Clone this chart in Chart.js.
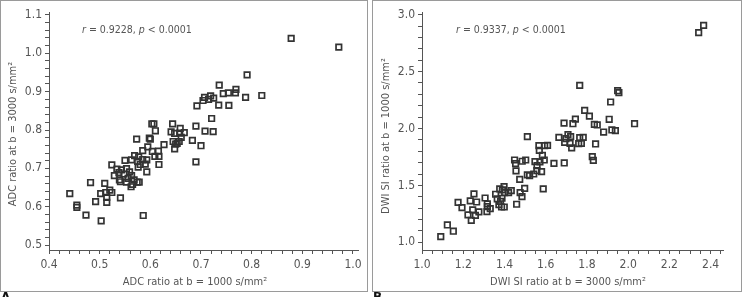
<!DOCTYPE html>
<html><head><meta charset="utf-8">
<script src="https://cdn.jsdelivr.net/npm/chart.js@4/dist/chart.umd.min.js"></script>
<style>
html,body{margin:0;padding:0;background:#fff;width:742px;height:297px;overflow:hidden;position:relative;}
.panel{position:absolute;top:0;border:1px solid #9a9a9a;background:#fff;}
#pA{left:0;width:366px;height:290px;}
#pB{left:372px;width:368px;height:290px;}
canvas{display:block;}
.lbl{position:absolute;top:291px;font:bold 12px 'DejaVu Sans',sans-serif;color:#111;line-height:12px;}
</style>
</head><body>
<div class="panel" id="pA"><canvas id="cA" width="366" height="290"></canvas></div>
<div class="panel" id="pB"><canvas id="cB" width="368" height="290"></canvas></div>
<div class="lbl" style="left:1px">A</div>
<div class="lbl" style="left:373px">B</div>
<script>
// ---- Panel A data: ADC ratio ----
const adcX = [0.878,0.972,0.791,0.736,0.769,0.768,0.754,0.744,0.820,0.788,0.719,0.707,0.725,0.715,0.704,0.735,0.755,0.692,0.721,0.708,0.724,0.690,0.700,0.683,0.690,0.644,0.659,0.658,0.667,0.641,0.648,0.661,0.645,0.657,0.650,0.648,0.653,0.627,0.603,0.607,0.610,0.600,0.598,0.573,0.595,0.604,0.616,0.609,0.617,0.617,0.585,0.569,0.577,0.585,0.593,0.590,0.575,0.580,0.593,0.576,0.550,0.563,0.524,0.534,0.543,0.553,0.559,0.548,0.529,0.538,0.563,0.556,0.568,0.541,0.539,0.553,0.574,0.562,0.565,0.578,0.482,0.510,0.502,0.512,0.520,0.524,0.514,0.492,0.514,0.541,0.441,0.455,0.455,0.473,0.503,0.586];
const adcY = [1.039,1.016,0.944,0.917,0.906,0.897,0.897,0.895,0.890,0.885,0.889,0.885,0.883,0.880,0.877,0.865,0.864,0.863,0.830,0.797,0.796,0.810,0.759,0.773,0.717,0.816,0.804,0.792,0.793,0.795,0.791,0.781,0.770,0.770,0.763,0.751,0.765,0.762,0.816,0.816,0.798,0.776,0.779,0.776,0.756,0.744,0.745,0.731,0.731,0.710,0.746,0.733,0.730,0.723,0.722,0.711,0.718,0.710,0.691,0.703,0.721,0.722,0.709,0.698,0.696,0.699,0.691,0.685,0.681,0.689,0.681,0.674,0.670,0.665,0.670,0.664,0.664,0.652,0.658,0.664,0.663,0.661,0.634,0.637,0.643,0.637,0.624,0.613,0.611,0.623,0.634,0.604,0.598,0.578,0.563,0.577];
// ---- Panel B data: DWI SI ratio ----
const dwiX = [2.342,2.366,1.765,1.949,1.955,1.915,1.789,1.812,1.744,1.732,1.689,1.836,1.850,2.031,1.908,1.881,1.921,1.938,1.842,1.826,1.831,1.664,1.698,1.708,1.721,1.718,1.726,1.760,1.773,1.765,1.782,1.692,1.690,1.640,1.511,1.567,1.595,1.609,1.569,1.584,1.593,1.572,1.548,1.558,1.557,1.580,1.542,1.588,1.449,1.454,1.486,1.503,1.456,1.474,1.511,1.522,1.476,1.485,1.498,1.459,1.398,1.377,1.357,1.365,1.401,1.420,1.433,1.390,1.388,1.386,1.399,1.373,1.381,1.306,1.317,1.317,1.331,1.315,1.252,1.265,1.234,1.246,1.276,1.259,1.223,1.239,1.175,1.194,1.123,1.152,1.091];
const dwiY = [2.842,2.906,2.379,2.332,2.315,2.233,2.160,2.109,2.083,2.042,2.048,2.037,2.031,2.042,2.081,1.969,1.987,1.981,1.864,1.753,1.720,1.922,1.911,1.946,1.928,1.870,1.829,1.867,1.870,1.919,1.922,1.878,1.697,1.694,1.928,1.849,1.849,1.852,1.808,1.764,1.723,1.706,1.709,1.674,1.630,1.621,1.600,1.469,1.723,1.691,1.712,1.723,1.627,1.553,1.592,1.586,1.437,1.401,1.474,1.334,1.489,1.469,1.422,1.381,1.437,1.437,1.454,1.460,1.387,1.310,1.310,1.331,1.360,1.389,1.337,1.313,1.296,1.270,1.425,1.354,1.363,1.284,1.267,1.237,1.240,1.193,1.351,1.305,1.152,1.097,1.050];

const TXT = '#555';
const FONT = "'DejaVu Sans Condensed','Liberation Sans Narrow','DejaVu Sans',sans-serif";

function pts(xs, ys){ return xs.map((x,i)=>({x:x, y:ys[i]})); }

const annoPlugin = {
  id:'anno',
  afterDraw(chart, args, o){
    const ctx = chart.ctx, ca = chart.chartArea;
    ctx.save();
    ctx.fillStyle = TXT;
    ctx.textBaseline = 'middle';
    // correlation annotation with italic r and p
    const parts = [['r',true],[' = '+o.r+', ',false],['p',true],[' < 0.0001',false]];
    let x = ca.left + o.ax, y = ca.top + o.ay;
    ctx.textAlign = 'left';
    parts.forEach(([t,it])=>{
      ctx.font = (it?'italic ':'') + '10.5px ' + FONT;
      ctx.fillText(t, x, y);
      x += ctx.measureText(t).width;
    });
    // axis titles
    ctx.font = '11px ' + FONT;
    ctx.textAlign = 'center';
    ctx.fillText(o.xt, o.xtx, o.xty);
    ctx.translate(o.ytx, o.yty);
    ctx.rotate(-Math.PI/2);
    ctx.fillText(o.yt, 0, 0);
    ctx.restore();
  }
};

function isMajor(v, step){ const k = v/step; return Math.abs(k - Math.round(k)) < 1e-6; }

function makeChart(id, data, sx, sy, pad, yw, anno){
  const axisCommon = (s, w) => ({
    type:'linear', min:s.min, max:s.max,
    grid:{display:true, drawOnChartArea:false, drawTicks:true, tickLength:4, tickColor:'#555', tickWidth:1},
    border:{display:true, color:'#555', width:1},
    ticks:{stepSize:s.minor, includeBounds:false, autoSkip:false, maxTicksLimit:1000, maxRotation:0, minRotation:0,
      color:TXT, font:{family:FONT, size:12}, padding:s.pad,
      callback:(v)=> isMajor(v, s.major) ? v.toFixed(1) : ''},
    afterFit:(scale)=>{ if (scale.isHorizontal()) scale.height = w; else scale.width = w; }
  });
  return new Chart(document.getElementById(id), {
    type:'scatter',
    data:{datasets:[{data:data, pointStyle:'rect', radius:3.9, hoverRadius:3.9,
      borderColor:'#333', borderWidth:1.7, backgroundColor:'rgba(0,0,0,0)'}]},
    options:{
      responsive:false, animation:false, devicePixelRatio:1,
      layout:{padding:pad},
      plugins:{legend:{display:false}, tooltip:{enabled:false}, anno:anno},
      scales:{ x:axisCommon(sx, 41), y:axisCommon(sy, yw) }
    },
    plugins:[annoPlugin]
  });
}

makeChart('cA', pts(adcX, adcY),
  {min:0.4, max:1.0099, minor:0.02, major:0.1, pad:4},
  {min:0.487, max:1.1078, minor:0.02, major:0.1, pad:3},
  {left:0, right:9, top:11, bottom:0}, 48,
  {r:'0.9228', ax:33, ay:18, xt:'ADC ratio at b = 1000 s/mm\u00B2', xtx:194, xty:281,
   yt:'ADC ratio at b = 3000 s/mm\u00B2', ytx:12, yty:133});

makeChart('cB', pts(dwiX, dwiY),
  {min:1.0, max:2.46, minor:0.05, major:0.2, pad:4},
  {min:0.932, max:3.024, minor:0.1, major:0.5, pad:3},
  {left:0, right:18, top:11, bottom:0}, 49,
  {r:'0.9337', ax:34, ay:18, xt:'DWI SI ratio at b = 3000 s/mm\u00B2', xtx:195, xty:281,
   yt:'DWI SI ratio at b = 1000 s/mm\u00B2', ytx:13, yty:135});
</script>
</body></html>
